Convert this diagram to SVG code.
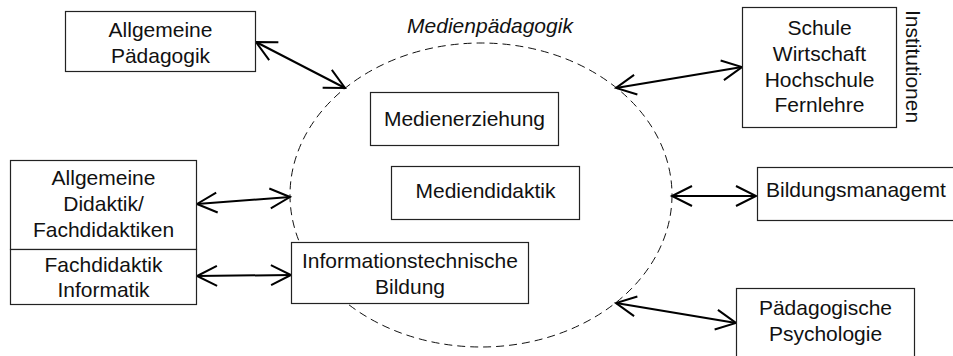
<svg xmlns="http://www.w3.org/2000/svg" width="953" height="356" viewBox="0 0 953 356">
<style>
.box{fill:#fff;stroke:#222;stroke-width:1.2}
.t{font-family:"Liberation Sans",Arial,sans-serif;font-size:21px;fill:#111;text-anchor:middle}
.c{stroke:#000;stroke-width:2;fill:none;marker-start:url(#ah);marker-end:url(#ah)}
</style>
<defs>
<marker id="ah" markerUnits="userSpaceOnUse" markerWidth="30" markerHeight="30" refX="0" refY="0" viewBox="-25 -15 30 30" orient="auto-start-reverse" overflow="visible">
<path d="M-20,-10 L0,0 L-20,10" fill="none" stroke="#000" stroke-width="2"/>
</marker>
</defs>
<rect width="953" height="356" fill="#fff"/>
<g id="medienpaedagogik">
<ellipse cx="481" cy="195" rx="191" ry="152" fill="none" stroke="#111" stroke-width="1" stroke-dasharray="8,5"/>
<text x="490" y="33" class="t" font-style="italic">Medienpädagogik</text>
</g>
<g id="connectors">
<line class="c" x1="256" y1="42" x2="345" y2="88"/>
<line class="c" x1="616" y1="88" x2="742" y2="67"/>
<line class="c" x1="197" y1="204" x2="290" y2="197"/>
<line class="c" x1="197" y1="276" x2="291" y2="275"/>
<line class="c" x1="672" y1="196" x2="756" y2="196"/>
<line class="c" x1="616" y1="303" x2="736" y2="323"/>
</g>
<g id="allg-paed">
<rect class="box" x="65.5" y="11.5" width="190" height="60"/>
<text class="t" x="160.5" y="37">Allgemeine</text>
<text class="t" x="160.5" y="63">Pädagogik</text>
</g>
<g id="medienerziehung">
<rect class="box" x="370.5" y="92.5" width="188" height="53"/>
<text class="t" x="464.5" y="126">Medienerziehung</text>
</g>
<g id="mediendidaktik">
<rect class="box" x="391.5" y="166.5" width="188" height="53"/>
<text class="t" x="485.5" y="198">Mediendidaktik</text>
</g>
<g id="itbildung">
<rect class="box" x="291.5" y="242.5" width="237" height="61"/>
<text class="t" x="410" y="268">Informationstechnische</text>
<text class="t" x="410" y="294">Bildung</text>
</g>
<g id="allg-didaktik">
<rect class="box" x="10.5" y="160.5" width="186" height="89"/>
<text class="t" x="103.5" y="185">Allgemeine</text>
<text class="t" x="103.5" y="211">Didaktik/</text>
<text class="t" x="103.5" y="237">Fachdidaktiken</text>
</g>
<g id="fd-informatik">
<rect class="box" x="10.5" y="249.5" width="186" height="55"/>
<text class="t" x="103.5" y="272">Fachdidaktik</text>
<text class="t" x="103.5" y="297">Informatik</text>
</g>
<g id="institutionen">
<rect class="box" x="742.5" y="7.5" width="154" height="120"/>
<text class="t" x="819.5" y="35">Schule</text>
<text class="t" x="819.5" y="61">Wirtschaft</text>
<text class="t" x="819.5" y="87">Hochschule</text>
<text class="t" x="819.5" y="112">Fernlehre</text>
<text class="t" transform="translate(906,66.5) rotate(90)" x="0" y="0">Institutionen</text>
</g>
<g id="bildungsmanagement">
<rect class="box" x="757.5" y="167.5" width="210" height="53"/>
<text class="t" x="766" y="197" text-anchor="start" style="text-anchor:start">Bildungsmanagemt</text>
</g>
<g id="paed-psych">
<rect class="box" x="736.5" y="288.5" width="178" height="80"/>
<text class="t" x="825.5" y="315">Pädagogische</text>
<text class="t" x="825.5" y="341">Psychologie</text>
</g>
</svg>
